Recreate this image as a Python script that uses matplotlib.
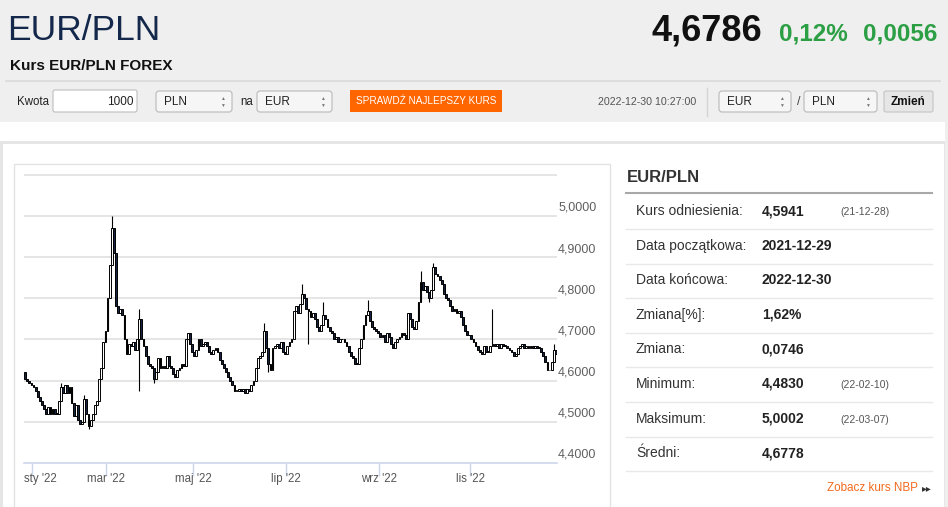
import numpy as np
import matplotlib
matplotlib.use("Agg")
import matplotlib.pyplot as plt
from matplotlib.patches import Rectangle, FancyBboxPatch

plt.rcParams['font.family'] = ['Liberation Sans', 'DejaVu Sans']

# ---- data (daily closes, EUR/PLN 2021-12-29 .. 2022-12-30)
first_open = 4.62
closes = [
    4.605, 4.600, 4.595, 4.590, 4.585, 4.575, 4.560, 4.550, 4.540, 4.530,
    4.520, 4.535, 4.520, 4.530, 4.520, 4.520, 4.550, 4.585, 4.570, 4.590,
    4.570, 4.585, 4.545, 4.515, 4.540, 4.505, 4.495, 4.500, 4.555, 4.520,
    4.490, 4.505, 4.520, 4.540, 4.550, 4.605, 4.630, 4.695, 4.720, 4.800,
    4.880, 4.970, 4.910, 4.780, 4.765, 4.775, 4.760, 4.700, 4.665, 4.690,
    4.685, 4.695, 4.675, 4.700, 4.750, 4.700, 4.685, 4.660, 4.640, 4.635,
    4.630, 4.605, 4.620, 4.655, 4.630, 4.635, 4.630, 4.660, 4.635, 4.630,
    4.615, 4.610, 4.625, 4.630, 4.640, 4.635, 4.700, 4.715, 4.690, 4.670,
    4.660, 4.675, 4.700, 4.685, 4.690, 4.695, 4.685, 4.670, 4.665, 4.675,
    4.680, 4.670, 4.650, 4.640, 4.630, 4.620, 4.610, 4.600, 4.590, 4.575,
    4.575, 4.580, 4.575, 4.580, 4.570, 4.580, 4.575, 4.590, 4.600, 4.630,
    4.655, 4.660, 4.670, 4.720, 4.680, 4.640, 4.625, 4.680, 4.685, 4.690,
    4.680, 4.695, 4.670, 4.665, 4.685, 4.695, 4.700, 4.770, 4.780, 4.765,
    4.785, 4.810, 4.800, 4.775, 4.770, 4.755, 4.765, 4.750, 4.730, 4.720,
    4.735, 4.760, 4.750, 4.730, 4.720, 4.715, 4.700, 4.705, 4.695, 4.700,
    4.700, 4.695, 4.685, 4.670, 4.660, 4.655, 4.640, 4.640, 4.680, 4.700,
    4.735, 4.760, 4.770, 4.745, 4.730, 4.725, 4.720, 4.715, 4.705, 4.710,
    4.695, 4.715, 4.705, 4.690, 4.680, 4.695, 4.700, 4.705, 4.715, 4.710,
    4.700, 4.765, 4.750, 4.730, 4.725, 4.745, 4.790, 4.840, 4.820, 4.830,
    4.815, 4.800, 4.820, 4.875, 4.860, 4.855, 4.845, 4.835, 4.810, 4.800,
    4.795, 4.780, 4.770, 4.775, 4.765, 4.770, 4.755, 4.735, 4.720, 4.710,
    4.710, 4.700, 4.695, 4.685, 4.675, 4.670, 4.665, 4.685, 4.670, 4.670,
    4.685, 4.690, 4.685, 4.690, 4.680, 4.690, 4.685, 4.685, 4.680, 4.675,
    4.670, 4.660, 4.665, 4.680, 4.685, 4.690, 4.680, 4.685, 4.680, 4.685,
    4.680, 4.685, 4.680, 4.680, 4.670, 4.660, 4.645, 4.625, 4.625, 4.645,
    4.675, 4.665,
]
# visible long wicks (candle index -> value)
high_spikes = {17: 4.595, 28: 4.565, 41: 5.0002, 54: 4.775, 113: 4.74, 131: 4.835,
               141: 4.79, 162: 4.795, 187: 4.865, 193: 4.885, 221: 4.775, 250: 4.69}
low_spikes = {30: 4.483, 54: 4.575, 61: 4.595, 115: 4.62, 134: 4.69, 191: 4.79}

month_pos = [3.5, 38.5, 79.5, 123.5, 167.5, 210.5]
month_labels = ["sty '22", "mar '22", "maj '22", "lip '22", "wrz '22", "lis '22"]
y_ticks = [4.4, 4.5, 4.6, 4.7, 4.8, 4.9, 5.0]

stat_labels = ['Kurs odniesienia:', 'Data początkowa:', 'Data końcowa:', 'Zmiana[%]:',
               'Zmiana:', 'Minimum:', 'Maksimum:', 'Średni:']
stat_values = ['4,5941', '2021-12-29', '2022-12-30', '1,62%', '0,0746',
               '4,4830', '5,0002', '4,6778']
stat_dates = ['(21-12-28)', '', '', '', '', '(22-02-10)', '(22-03-07)', '']

W, H = 948, 507
fig = plt.figure(figsize=(W / 100, H / 100), dpi=100)
fig.patch.set_facecolor('white')

# ---- page layer in pixel coordinates
pg = fig.add_axes([0, 0, 1, 1])
pg.set_xlim(0, W)
pg.set_ylim(H, 0)
pg.axis('off')


def box(x, y, w, h, fc, ec='none', lw=1, r=0, z=1):
    if r:
        p = FancyBboxPatch((x, y), w, h, boxstyle=f"round,pad=0,rounding_size={r}",
                           fc=fc, ec=ec, lw=lw, zorder=z)
    else:
        p = Rectangle((x, y), w, h, fc=fc, ec=ec, lw=lw, zorder=z)
    pg.add_patch(p)


def select(x, y, w, label):
    box(x, y, w, 21, '#f6f6f6', '#b9b9b9', 0.8, r=3, z=2)
    pg.text(x + 8, y + 11, label, fontsize=8.5, color='#222', va='center', zorder=3)
    pg.text(x + w - 10, y + 8, '▲', fontsize=3.5, color='#777', ha='center', va='center', zorder=3)
    pg.text(x + w - 10, y + 14, '▼', fontsize=3.5, color='#777', ha='center', va='center', zorder=3)


box(0, 0, W, 122, '#efefef')
box(1, 142, 944, 380, 'white', '#e4e4e4', 2)
box(945, 122, 3, 385, '#efefef')
pg.plot([6, 940], [81, 81], color='#dadada', lw=1.2, zorder=2)

# header
pg.text(7, 40, 'EUR/PLN', fontsize=25.5, color='#14284b', va='baseline')
pg.text(762, 41, '4,6786', fontsize=26, weight='bold', color='#111', ha='right', va='baseline')
pg.text(779, 40, '0,12%', fontsize=17.5, weight='bold', color='#2c9f45', va='baseline')
pg.text(937, 40, '0,0056', fontsize=17.5, weight='bold', color='#2c9f45', ha='right', va='baseline')
pg.text(10, 70, 'Kurs EUR/PLN FOREX', fontsize=11, weight='bold', color='#111', va='baseline')

# form row
pg.text(17, 102, 'Kwota', fontsize=8.3, color='#222', va='center')
box(53, 90, 84, 22, 'white', '#bdbdbd', 0.8, r=2, z=2)
pg.text(134, 102, '1000', fontsize=8.5, color='#222', ha='right', va='center', zorder=3)
select(156, 91, 76, 'PLN')
pg.text(240, 102, 'na', fontsize=8.3, color='#222', va='center')
select(257, 91, 75, 'EUR')
box(350, 90, 152, 22, '#ff6600', z=2)
pg.text(426, 101.5, 'SPRAWDŹ NAJLEPSZY KURS', fontsize=7.2, color='white',
        ha='center', va='center', zorder=3)
pg.text(696, 102, '2022-12-30 10:27:00', fontsize=7.7, color='#555', ha='right', va='center')
pg.plot([707, 707], [88, 116], color='#d4d4d4', lw=1, zorder=2)
select(719, 91, 72, 'EUR')
pg.text(797, 102, '/', fontsize=9, color='#444', va='center')
select(804, 91, 73, 'PLN')
box(884, 91, 49, 21, '#e6e6e6', '#c4c4c4', 0.8, r=2, z=2)
pg.text(908.5, 102, 'Zmień', fontsize=8.5, weight='bold', color='#111', ha='center', va='center', zorder=3)

# chart frame
box(14, 164, 596, 360, 'white', '#e3e3e3', 1, z=2)

# right stats table
pg.text(627, 177, 'EUR/PLN', fontsize=12, weight='bold', color='#333', va='center')
pg.plot([626, 932], [193, 193], color='#a8a8a8', lw=1.5)
for k, (lab, val, dt) in enumerate(zip(stat_labels, stat_values, stat_dates)):
    yc = 211 + 34.6 * k
    pg.text(636, yc, lab, fontsize=10, color='#333', va='center')
    pg.text(762, yc, val, fontsize=10, weight='bold', color='#222', va='center')
    if dt:
        pg.text(840, yc + 1, dt, fontsize=7.5, color='#555', va='center')
    pg.plot([626, 932], [yc + 18, yc + 18], color='#e8e8e8', lw=1)
pg.text(918, 488, 'Zobacz kurs NBP', fontsize=8.4, color='#f26a1b', ha='right', va='center')
pg.text(922, 488, '▸▸', fontsize=7, color='#333', va='center', family=['DejaVu Sans'])

# ---- candlestick chart
ax = fig.add_axes([24 / W, (H - 463) / H, 533 / W, 289 / H])
ax.set_facecolor('none')
n = len(closes)
idx = np.arange(n)
c = np.array(closes)
o = np.concatenate([[first_open], c[:-1]])
hi = np.maximum(o, c)
lo = np.minimum(o, c)
for k, v in high_spikes.items():
    hi[k] = max(hi[k], v)
for k, v in low_spikes.items():
    lo[k] = min(lo[k], v)

up = c >= o
body_bot = np.minimum(o, c)
body_h = np.maximum(np.abs(c - o), 0.002)
ax.vlines(idx, lo, hi, color='black', lw=0.8, zorder=3)
ax.bar(idx[up], body_h[up], bottom=body_bot[up], width=0.85, color='white',
       edgecolor='black', lw=0.7, zorder=4)
ax.bar(idx[~up], body_h[~up], bottom=body_bot[~up], width=0.85, color='#15233f',
       edgecolor='black', lw=0.7, zorder=4)

ax.set_xlim(-0.5, n - 0.5)
ax.set_ylim(4.4, 5.1017)
for v in y_ticks[1:] + [5.1]:
    ax.axhline(v, color='#e3e3e3', lw=1.3, zorder=1)
for s in ['top', 'right', 'left']:
    ax.spines[s].set_visible(False)
ax.spines['bottom'].set_color('#ccd6eb')
ax.spines['bottom'].set_linewidth(1.2)
ax.set_yticks([])
ax.set_xticks(month_pos)
ax.set_xticklabels([])
ax.tick_params(axis='x', direction='out', length=9, width=1, color='#ccd6eb')

ytr = ax.get_yaxis_transform()
for v in y_ticks:
    ax.text(1.002, v + 0.005, f"{v:.4f}".replace('.', ','), transform=ytr, fontsize=9,
            color='#606060', va='bottom', ha='left', clip_on=False)
xtr = ax.get_xaxis_transform()
for k, (p, lab) in enumerate(zip(month_pos, month_labels)):
    if k == 0:
        ax.text(-0.5, -0.055, lab, transform=xtr, fontsize=8.3, color='#555',
                ha='left', va='center', clip_on=False)
    else:
        ax.text(p, -0.055, lab, transform=xtr, fontsize=8.3, color='#555',
                ha='center', va='center', clip_on=False)

fig.savefig('out.png', dpi=100)
